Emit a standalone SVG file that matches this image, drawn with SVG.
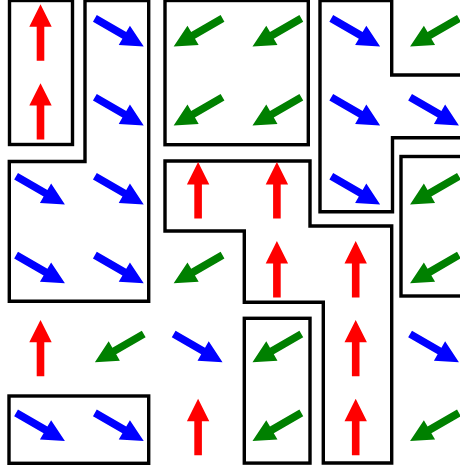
<svg xmlns="http://www.w3.org/2000/svg" xmlns:xlink="http://www.w3.org/1999/xlink" width="460" height="472" viewBox="0 0 460 472">
<style>
.box{fill:none;stroke:#000;stroke-width:3.4;stroke-linejoin:miter}
.r{fill:#ff0000}.b{fill:#0000ff}.g{fill:#008000}
</style>
<defs>
<path id="arr" d="M-28.2,-3.8 L5.8,-3.8 L5.8,-11.2 L28.2,0 L5.8,11.2 L5.8,3.8 L-28.2,3.8 Z"/>
</defs>
<rect width="460" height="472" fill="#fff"/>
<g id="boxes">
<rect id="box1" class="box" x="9.5" y="0.5" width="63" height="144"/>
<polygon id="box2" class="box" points="85,0.5 148.7,0.5 148.7,301.3 9.3,301.3 9.3,161.5 85,161.5"/>
<rect id="box3" class="box" x="165" y="0.5" width="143.3" height="144.2"/>
<polygon id="box4" class="box" points="165,161 310,161 310,226 391.7,226 391.7,463 323.3,463 323.3,302.3 244.3,302.3 244.3,231 165,231"/>
<polygon id="box5" class="box" points="320,0.5 391.7,0.5 391.7,75 470,75 470,137.7 392.5,137.7 392.5,211.7 320,211.7"/>
<rect id="box6" class="box" x="401" y="156.5" width="70" height="139.5"/>
<rect id="box7" class="box" x="244.3" y="318.3" width="65.7" height="144.8"/>
<rect id="box8" class="box" x="9" y="396" width="139.7" height="67.3"/>
</g>
<g id="arrows">
<!-- row 0 -->
<use id="a00" xlink:href="#arr" class="r" transform="translate(40.5,32.5) rotate(-90)"/>
<use id="a01" xlink:href="#arr" class="b" transform="translate(119.3,32.5) rotate(30)"/>
<use id="a02" xlink:href="#arr" class="g" transform="translate(198.1,32.5) rotate(150)"/>
<use id="a03" xlink:href="#arr" class="g" transform="translate(276.9,32.5) rotate(150)"/>
<use id="a04" xlink:href="#arr" class="b" transform="translate(355.7,32.5) rotate(30)"/>
<use id="a05" xlink:href="#arr" class="g" transform="translate(434.5,32.5) rotate(150)"/>
<!-- row 1 -->
<use id="a10" xlink:href="#arr" class="r" transform="translate(40.5,111.4) rotate(-90)"/>
<use id="a11" xlink:href="#arr" class="b" transform="translate(119.3,111.4) rotate(30)"/>
<use id="a12" xlink:href="#arr" class="g" transform="translate(198.1,111.4) rotate(150)"/>
<use id="a13" xlink:href="#arr" class="g" transform="translate(276.9,111.4) rotate(150)"/>
<use id="a14" xlink:href="#arr" class="b" transform="translate(355.7,111.4) rotate(30)"/>
<use id="a15" xlink:href="#arr" class="b" transform="translate(434.5,111.4) rotate(30)"/>
<!-- row 2 -->
<use id="a20" xlink:href="#arr" class="b" transform="translate(40.5,190.3) rotate(30)"/>
<use id="a21" xlink:href="#arr" class="b" transform="translate(119.3,190.3) rotate(30)"/>
<use id="a22" xlink:href="#arr" class="r" transform="translate(198.1,190.3) rotate(-90)"/>
<use id="a23" xlink:href="#arr" class="r" transform="translate(276.9,190.3) rotate(-90)"/>
<use id="a24" xlink:href="#arr" class="b" transform="translate(355.7,190.3) rotate(30)"/>
<use id="a25" xlink:href="#arr" class="g" transform="translate(434.5,190.3) rotate(150)"/>
<!-- row 3 -->
<use id="a30" xlink:href="#arr" class="b" transform="translate(40.5,269.2) rotate(30)"/>
<use id="a31" xlink:href="#arr" class="b" transform="translate(119.3,269.2) rotate(30)"/>
<use id="a32" xlink:href="#arr" class="g" transform="translate(198.1,269.2) rotate(150)"/>
<use id="a33" xlink:href="#arr" class="r" transform="translate(276.9,269.2) rotate(-90)"/>
<use id="a34" xlink:href="#arr" class="r" transform="translate(355.7,269.2) rotate(-90)"/>
<use id="a35" xlink:href="#arr" class="g" transform="translate(434.5,269.2) rotate(150)"/>
<!-- row 4 -->
<use id="a40" xlink:href="#arr" class="r" transform="translate(40.5,348.1) rotate(-90)"/>
<use id="a41" xlink:href="#arr" class="g" transform="translate(119.3,348.1) rotate(150)"/>
<use id="a42" xlink:href="#arr" class="b" transform="translate(198.1,348.1) rotate(30)"/>
<use id="a43" xlink:href="#arr" class="g" transform="translate(276.9,348.1) rotate(150)"/>
<use id="a44" xlink:href="#arr" class="r" transform="translate(355.7,348.1) rotate(-90)"/>
<use id="a45" xlink:href="#arr" class="b" transform="translate(434.5,348.1) rotate(30)"/>
<!-- row 5 -->
<use id="a50" xlink:href="#arr" class="b" transform="translate(40.5,427) rotate(30)"/>
<use id="a51" xlink:href="#arr" class="b" transform="translate(119.3,427) rotate(30)"/>
<use id="a52" xlink:href="#arr" class="r" transform="translate(198.1,427) rotate(-90)"/>
<use id="a53" xlink:href="#arr" class="g" transform="translate(276.9,427) rotate(150)"/>
<use id="a54" xlink:href="#arr" class="r" transform="translate(355.7,427) rotate(-90)"/>
<use id="a55" xlink:href="#arr" class="g" transform="translate(434.5,427) rotate(150)"/>
</g>
</svg>
